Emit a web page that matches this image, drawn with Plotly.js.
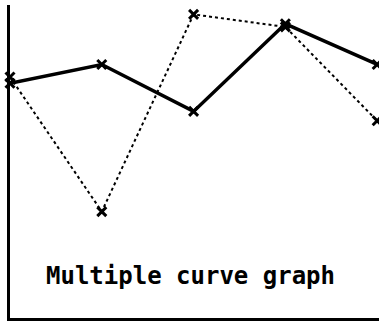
<!DOCTYPE html>
<html>
<head>
<meta charset="utf-8">
<script src="https://cdn.plot.ly/plotly-3.0.1.min.js"></script>
<style>
  html, body { margin: 0; padding: 0; background: #fff; }
  #chart { width: 379px; height: 326px; }
</style>
</head>
<body>
<div id="chart"></div>
<script>
// Sample positions and the two curves
const xs = [0, 1, 2, 3, 4];
const curveA = [75, 81, 66, 94, 81];   // solid curve
const curveB = [77, 34, 97, 93, 63];   // dotted curve
const caption = 'Multiple curve graph';

const traces = [
  {
    x: xs, y: curveB, type: 'scatter', mode: 'lines+markers',
    line: { color: '#000', width: 2, dash: 'dot' },
    marker: { symbol: 'x-thin', size: 9, color: '#000', line: { color: '#000', width: 3 } },
    cliponaxis: false, hoverinfo: 'skip'
  },
  {
    x: xs, y: curveA, type: 'scatter', mode: 'lines+markers',
    line: { color: '#000', width: 3.5 },
    marker: { symbol: 'x-thin', size: 9, color: '#000', line: { color: '#000', width: 3 } },
    cliponaxis: false, hoverinfo: 'skip'
  }
];

const layout = {
  width: 379, height: 326,
  margin: { l: 10, r: 0, t: 5, b: 8 },
  paper_bgcolor: '#fff', plot_bgcolor: '#fff',
  showlegend: false,
  xaxis: {
    range: [0, 4.02], showgrid: false, zeroline: false, showticklabels: false, ticks: '',
    showline: true, linecolor: '#000', linewidth: 3, fixedrange: true
  },
  yaxis: {
    range: [0, 100], showgrid: false, zeroline: false, showticklabels: false, ticks: '',
    showline: true, linecolor: '#000', linewidth: 3, fixedrange: true
  },
  annotations: [{
    text: '<b>' + caption + '</b>',
    xref: 'paper', yref: 'paper', x: 0.092, y: 0.134,
    xanchor: 'left', yanchor: 'middle', showarrow: false,
    font: { family: 'DejaVu Sans Mono', size: 24, color: '#000' }
  }]
};

Plotly.newPlot('chart', traces, layout, { staticPlot: true, displayModeBar: false });
</script>
</body>
</html>
